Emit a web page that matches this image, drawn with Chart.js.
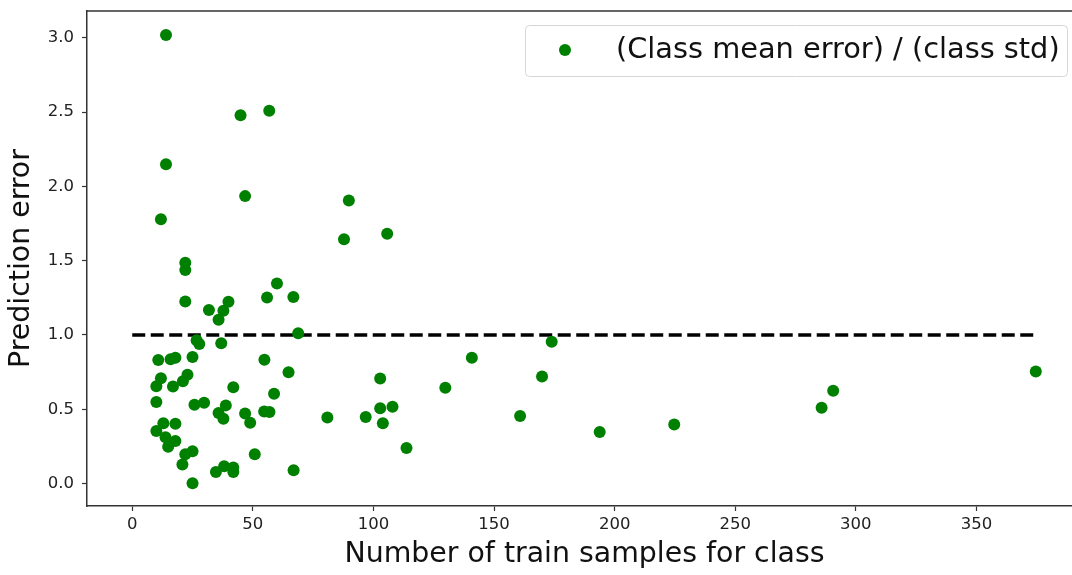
<!DOCTYPE html>
<html>
<head>
<meta charset="utf-8">
<script src="https://cdn.jsdelivr.net/npm/chart.js@4.4.1/dist/chart.umd.min.js"></script>
<style>
  html, body { margin: 0; padding: 0; background: #fff; overflow: hidden; }
  #wrap { width: 1090px; height: 575px; }
</style>
</head>
<body>
<div id="wrap"><canvas id="myChart" width="1090" height="575"></canvas></div>
<script>
// train samples per class (x) and (class mean error)/(class std) (y)
const samples = [
  14.0, 44.9, 56.8, 14.0, 46.8, 89.8, 11.9, 87.8, 105.7, 60.0,
  66.8, 68.8, 64.8, 102.8, 129.8, 140.8, 173.9, 169.9, 102.8, 107.9,
  80.9, 96.8, 103.9, 160.8, 113.7, 66.9, 193.8, 224.7, 285.8, 290.6,
  374.6, 22.0, 22.0, 22.0, 31.8, 39.9, 37.8, 35.8, 55.9, 26.7,
  27.8, 36.9, 10.8, 15.9, 17.9, 25.0, 54.8, 11.9, 10.0, 16.9,
  21.0, 22.9, 41.9, 10.0, 25.8, 29.8, 38.8, 35.8, 37.8, 46.8,
  48.9, 54.7, 56.9, 58.8, 12.9, 17.9, 10.0, 13.8, 17.9, 14.9,
  25.0, 22.0, 20.8, 50.8, 34.7, 38.1, 41.9, 41.9, 25.0
];
const errors = [
  3.02, 2.48, 2.51, 2.15, 1.935, 1.905, 1.78, 1.645, 1.682, 1.346,
  1.255, 1.011, 0.749, 0.707, 0.644, 0.846, 0.955, 0.72, 0.507, 0.517,
  0.445, 0.448, 0.405, 0.454, 0.239, 0.09, 0.346, 0.398, 0.51, 0.624,
  0.754, 1.487, 1.438, 1.226, 1.168, 1.224, 1.163, 1.103, 1.252, 0.964,
  0.94, 0.944, 0.832, 0.836, 0.846, 0.852, 0.834, 0.709, 0.655, 0.653,
  0.689, 0.733, 0.648, 0.548, 0.53, 0.544, 0.526, 0.474, 0.436, 0.472,
  0.409, 0.485, 0.481, 0.604, 0.405, 0.403, 0.353, 0.311, 0.286, 0.248,
  0.217, 0.197, 0.128, 0.197, 0.078, 0.116, 0.107, 0.078, 0.002
];
// reference line y = 1
const refLineX = [0, 375];
const refLineY = [1, 1];

const xTicks = [0, 50, 100, 150, 200, 250, 300, 350];
const yTicks = [0.0, 0.5, 1.0, 1.5, 2.0, 2.5, 3.0];

const FONT = "'DejaVu Sans', sans-serif";

// top spine + matplotlib-like legend box
const framePlugin = {
  id: "frame",
  afterDatasetsDraw(chart) {
    const { ctx, chartArea } = chart;
    ctx.save();
    ctx.strokeStyle = "#333";
    ctx.lineWidth = 1.5;
    ctx.beginPath();
    ctx.moveTo(chartArea.left, chartArea.top);
    ctx.lineTo(chartArea.right, chartArea.top);
    ctx.lineTo(chartArea.right, chartArea.bottom);
    ctx.stroke();

    const bx = 525, by = 25, bw = 542, bh = 51;
    ctx.fillStyle = "rgba(255,255,255,0.85)";
    ctx.strokeStyle = "#d6d6d6";
    ctx.lineWidth = 1;
    ctx.beginPath();
    ctx.roundRect(bx + 0.5, by + 0.5, bw, bh, 4);
    ctx.fill();
    ctx.stroke();

    ctx.fillStyle = "#008000";
    ctx.beginPath();
    ctx.arc(565, 50, 6, 0, Math.PI * 2);
    ctx.fill();

    ctx.fillStyle = "#111";
    ctx.font = "28.8px " + FONT;
    ctx.textBaseline = "middle";
    ctx.textAlign = "left";
    ctx.fillText(chart.data.datasets[0].label, 616, 51);
    ctx.restore();
  },
};

const data = {
  datasets: [
    {
      label: "(Class mean error) / (class std)",
      data: samples.map((s, i) => ({ x: s, y: errors[i] })),
      backgroundColor: "#008000",
      borderColor: "#008000",
      pointRadius: 6,
      pointBorderWidth: 0,
      showLine: false,
    },
    {
      label: "ratio = 1",
      data: refLineX.map((s, i) => ({ x: s, y: refLineY[i] })),
      borderColor: "#000",
      borderWidth: 3.5,
      borderDash: [13, 5.5],
      pointRadius: 0,
      showLine: true,
      fill: false,
    },
  ],
};

const config = {
  type: "scatter",
  data,
  options: {
    responsive: false,
    animation: false,
    layout: { padding: { top: 11, right: 8, left: 0, bottom: 0 } },
    plugins: {
      legend: { display: false },
      tooltip: { enabled: false },
    },
    scales: {
      x: {
        type: "linear",
        min: -18.75,
        max: 393.75,
        afterBuildTicks: (scale) => {
          scale.ticks = xTicks.map((v) => ({ value: v }));
        },
        afterFit: (scale) => {
          scale.height = 69;
        },
        grid: { drawOnChartArea: false, drawTicks: true, tickLength: 5, tickColor: "#333", tickWidth: 1.2 },
        border: { display: true, color: "#333", width: 1.5 },
        ticks: {
          color: "#222",
          font: { family: FONT, size: 16.5 },
          padding: 4,
          maxRotation: 0,
          callback: (v) => String(v),
        },
        title: {
          display: true,
          text: "Number of train samples for class",
          color: "#111",
          font: { family: FONT, size: 28.4 },
          padding: { top: 0, bottom: 3 },
        },
      },
      y: {
        type: "linear",
        min: -0.1515,
        max: 3.1815,
        afterBuildTicks: (scale) => {
          scale.ticks = yTicks.map((v) => ({ value: v }));
        },
        afterFit: (scale) => {
          scale.width = 87;
          scale.paddingTop = 0;
          scale.paddingBottom = 0;
        },
        grid: { drawOnChartArea: false, drawTicks: true, tickLength: 5, tickColor: "#333", tickWidth: 1.2 },
        border: { display: true, color: "#333", width: 1.5 },
        ticks: {
          color: "#222",
          font: { family: FONT, size: 16.5 },
          padding: 8,
          callback: (v) => v.toFixed(1),
        },
        title: {
          display: true,
          text: "Prediction error",
          color: "#111",
          font: { family: FONT, size: 28.4 },
          padding: { top: 5, bottom: 0 },
        },
      },
    },
  },
  plugins: [framePlugin],
};

const myChart = new Chart(document.getElementById("myChart"), config);
</script>
</body>
</html>
